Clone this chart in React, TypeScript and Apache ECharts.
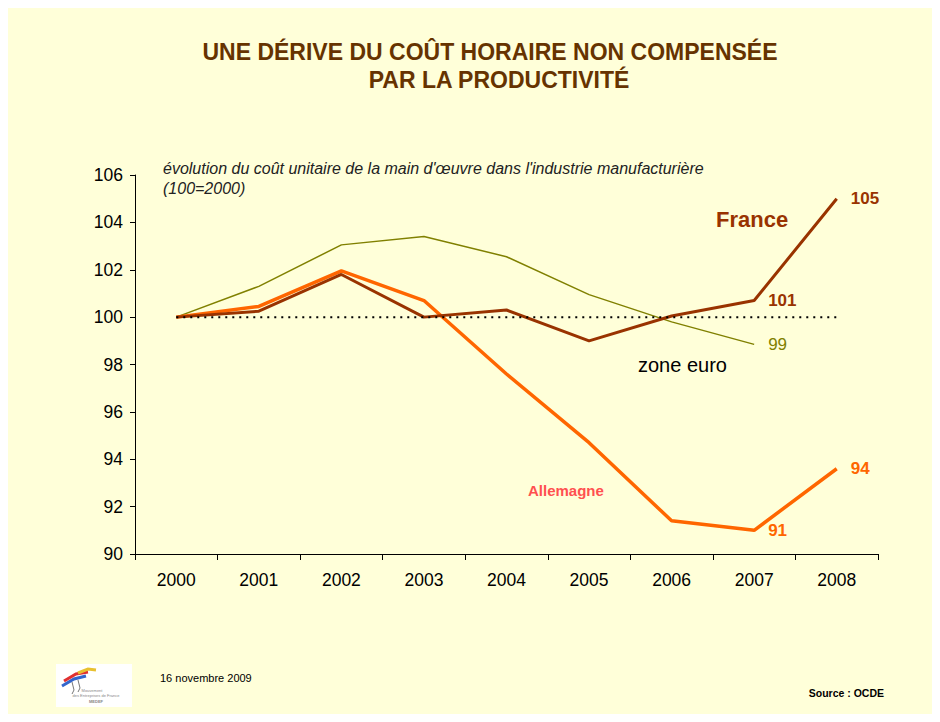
import React, { useEffect, useRef } from "react";
import * as echarts from "echarts";

const years = ["2000", "2001", "2002", "2003", "2004", "2005", "2006", "2007", "2008"];
const france = [100, 100.25, 101.8, 100.0, 100.3, 99.0, 100.05, 100.7, 105.0];
const allemagne = [100, 100.45, 101.95, 100.7, 97.6, 94.7, 91.4, 91.0, 93.6];
const zoneEuro = [100, 101.3, 103.05, 103.4, 102.55, 100.95, 99.8, 98.85, null];
const reference = [100, 100, 100, 100, 100, 100, 100, 100, 100];
const yTicks = { min: 90, max: 106, interval: 2 };

const franceLabels: Record<number, string> = { 7: "101", 8: "105" };
const allemagneLabels: Record<number, string> = { 7: "91", 8: "94" };
const zoneLabels: Record<number, string> = { 7: "99" };

const FONT = "'Liberation Sans', Arial, sans-serif";

function withLabels(values: (number | null)[], labels: Record<number, string>, color: string, bold: boolean) {
  return values.map((v, i) =>
    labels[i] !== undefined
      ? {
          value: v,
          label: {
            show: true,
            position: "right",
            distance: 14,
            formatter: labels[i],
            color,
            fontSize: 17,
            fontWeight: bold ? "bold" : "normal",
            fontFamily: FONT,
          },
        }
      : v
  );
}

export default function App() {
  const ref = useRef<HTMLDivElement>(null);
  useEffect(() => {
    if (!ref.current) return;
    const chart = echarts.init(ref.current, undefined, { renderer: "svg" });
    chart.setOption({
      animation: false,
      backgroundColor: "#FFFFD9",
      textStyle: { fontFamily: FONT },
      grid: { left: 127, right: 54, top: 167, bottom: 160, containLabel: false },
      xAxis: {
        type: "category",
        data: years,
        boundaryGap: true,
        axisLine: { lineStyle: { color: "#000", width: 1 } },
        axisTick: { show: true, length: 6, lineStyle: { color: "#000" } },
        axisLabel: { color: "#000", fontSize: 17.5, margin: 17, fontFamily: FONT },
        splitLine: { show: false },
      },
      yAxis: {
        type: "value",
        min: yTicks.min,
        max: yTicks.max,
        interval: yTicks.interval,
        axisLine: { show: true, lineStyle: { color: "#000", width: 1 } },
        axisTick: { show: true, length: 5, lineStyle: { color: "#000" } },
        axisLabel: { color: "#000", fontSize: 17.5, margin: 12, fontFamily: FONT },
        splitLine: { show: false },
      },
      series: [
        {
          name: "zone euro",
          type: "line",
          data: withLabels(zoneEuro, zoneLabels, "#808000", false),
          symbol: "circle",
          symbolSize: 0,
          showSymbol: true,
          lineStyle: { color: "#808000", width: 1.5 },
          itemStyle: { color: "#808000" },
          z: 2,
        },
        {
          name: "Allemagne",
          type: "line",
          data: withLabels(allemagne, allemagneLabels, "#FF6600", true),
          symbol: "circle",
          symbolSize: 0,
          showSymbol: true,
          lineStyle: { color: "#FF6600", width: 3.5 },
          itemStyle: { color: "#FF6600" },
          z: 3,
        },
        {
          name: "France",
          type: "line",
          data: withLabels(france, franceLabels, "#993300", true),
          symbol: "circle",
          symbolSize: 0,
          showSymbol: true,
          lineStyle: { color: "#993300", width: 3 },
          itemStyle: { color: "#993300" },
          z: 4,
        },
        {
          name: "ref",
          type: "line",
          data: reference,
          symbol: "none",
          lineStyle: { color: "#000", width: 2, type: [2, 5] },
          z: 5,
        },
      ],
      graphic: [
        {
          type: "text",
          x: 482,
          y: 32,
          style: {
            text: "UNE DÉRIVE DU COÛT HORAIRE NON COMPENSÉE",
            fill: "#663300",
            font: `bold 23px ${FONT}`,
            align: "center",
          },
        },
        {
          type: "text",
          x: 491,
          y: 60,
          style: {
            text: "PAR LA PRODUCTIVITÉ",
            fill: "#663300",
            font: `bold 23px ${FONT}`,
            align: "center",
          },
        },
        {
          type: "text",
          x: 155,
          y: 150,
          style: {
            text: "évolution du coût unitaire de la main d'œuvre dans l'industrie manufacturière\n(100=2000)",
            fill: "#222",
            font: `italic 16px ${FONT}`,
            lineHeight: 20,
          },
        },
        {
          type: "text",
          x: 708,
          y: 200,
          style: { text: "France", fill: "#993300", font: `bold 22px ${FONT}` },
        },
        {
          type: "text",
          x: 630,
          y: 347,
          style: { text: "zone euro", fill: "#000", font: `20px ${FONT}` },
        },
        {
          type: "text",
          x: 520,
          y: 475,
          style: { text: "Allemagne", fill: "#FF5050", font: `bold 15px ${FONT}` },
        },
        {
          type: "text",
          x: 152,
          y: 664,
          style: { text: "16 novembre 2009", fill: "#000", font: `11px ${FONT}` },
        },
        {
          type: "text",
          x: 876,
          y: 679,
          style: { text: "Source : OCDE", fill: "#000", font: `bold 10.5px ${FONT}`, align: "right" },
        },
        {
          type: "group",
          x: 48,
          y: 656,
          children: [
            { type: "rect", shape: { x: 0, y: 0, width: 76, height: 43 }, style: { fill: "#FFFFFF" } },
            { type: "polyline", shape: { points: [[6, 22], [18, 15], [30, 12]] }, style: { stroke: "#3366CC", lineWidth: 3, fill: "none" } },
            { type: "polyline", shape: { points: [[8, 17], [20, 10], [32, 8]] }, style: { stroke: "#E03030", lineWidth: 3, fill: "none" } },
            { type: "polyline", shape: { points: [[22, 9], [32, 5], [40, 6]] }, style: { stroke: "#E8C030", lineWidth: 3, fill: "none" } },
            { type: "polyline", shape: { points: [[16, 18], [18, 26], [16, 30]] }, style: { stroke: "#777", lineWidth: 1, fill: "none" } },
            { type: "polyline", shape: { points: [[22, 16], [24, 24], [22, 28]] }, style: { stroke: "#777", lineWidth: 1, fill: "none" } },
            { type: "text", x: 36, y: 24, style: { text: "Mouvement", fill: "#888", font: `4px ${FONT}`, align: "center" } },
            { type: "text", x: 40, y: 29, style: { text: "des Entreprises de France", fill: "#888", font: `4px ${FONT}`, align: "center" } },
            { type: "text", x: 40, y: 35, style: { text: "MEDEF", fill: "#888", font: `bold 4px ${FONT}`, align: "center" } },
          ],
        },
      ],
    });
    return () => chart.dispose();
  }, []);
  return <div ref={ref} style={{ width: 924, height: 706 }} />;
}
